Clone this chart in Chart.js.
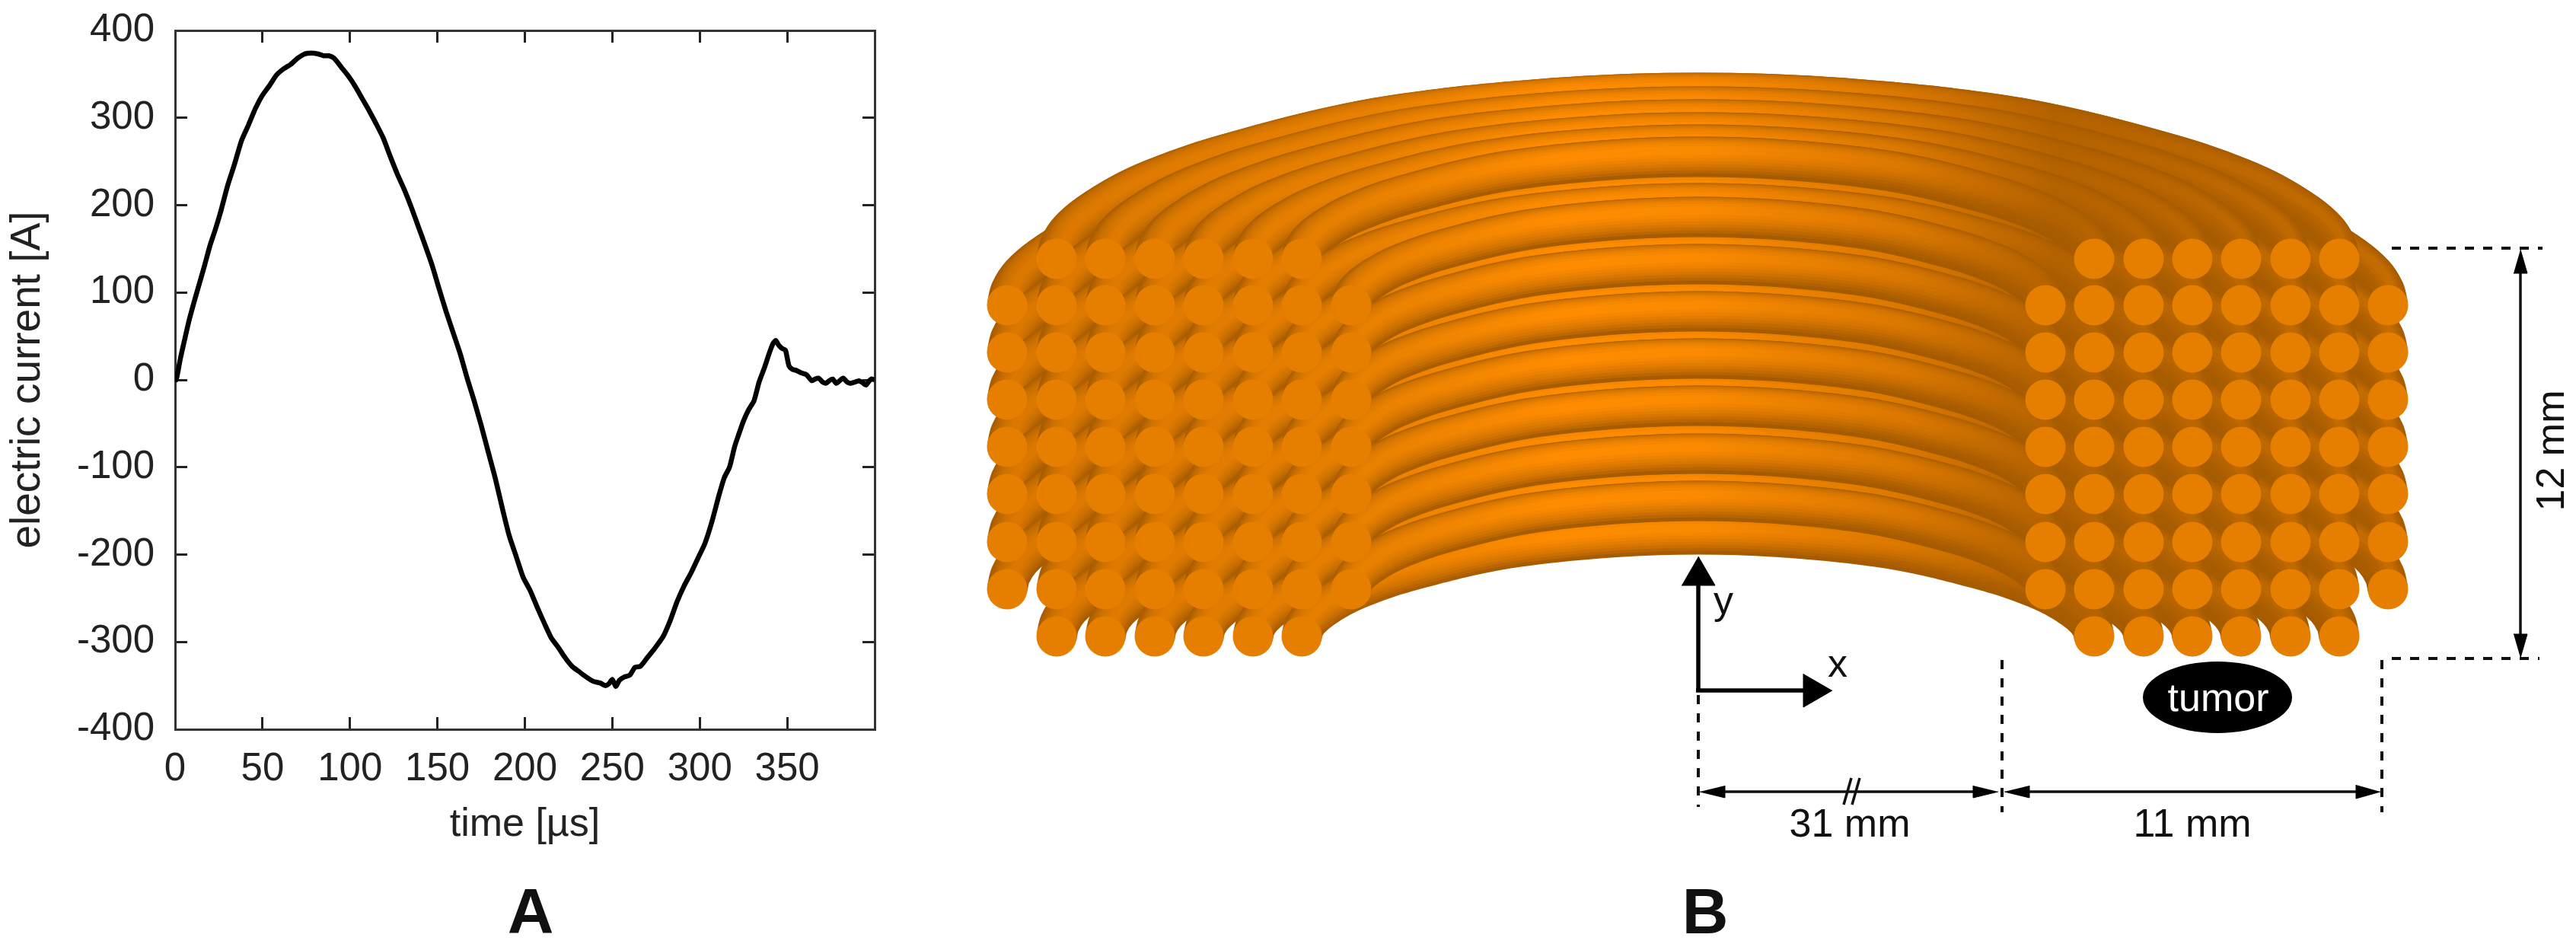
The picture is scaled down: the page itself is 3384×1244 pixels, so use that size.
<!DOCTYPE html>
<html>
<head>
<meta charset="utf-8">
<title>Coil current and geometry</title>
<script src="https://cdn.jsdelivr.net/npm/chart.js@4/dist/chart.umd.js"></script>
<style>
    html, body { margin: 0; padding: 0; background: #fff; }
    canvas { position: absolute; top: 0; }
    #chart-a { left: 0; }
    #chart-b { left: 1200px; }
</style>
</head>
<body>
<canvas id="chart-a" width="1200" height="1244"></canvas>
<canvas id="chart-b" width="2184" height="1244"></canvas>
<script>
// Panel A: current pulse
const timeValues = [0, 1, 3, 5, 8, 11, 14, 17, 20, 23, 26, 30, 34, 38, 42, 46, 50, 54, 58, 62, 66, 70, 74, 78, 82, 85, 88, 91, 95, 99, 103, 107, 111, 115, 119, 123, 127, 131, 135, 139, 143, 147, 151, 155, 159, 163, 167, 171, 175, 179, 183, 187, 191, 195, 199, 203, 207, 211, 215, 219, 223, 227, 231, 235, 239, 243, 246, 248, 250, 252, 254, 257, 260, 263, 266, 270, 274, 279, 283, 287, 291, 295, 299, 303, 307, 311, 314, 317, 320, 322, 325, 328, 331, 334, 337, 340, 342, 343.5, 345, 347, 349, 351, 353, 355, 358, 361, 364, 366, 368, 370, 372, 374, 376, 378, 380, 382, 384, 386, 388, 391, 393, 395, 397, 398, 400];
const currentValues = [-2, 3, 24, 42, 68, 90, 111, 132, 154, 172, 192, 222, 247, 274, 292, 311, 326, 337, 349, 356, 361, 368, 373, 374, 373, 371, 371, 368, 358, 348, 336, 322, 308, 293, 277, 256, 236, 218, 198, 176, 154, 131, 104, 78, 54, 30, 2, -24, -52, -82, -112, -146, -178, -202, -226, -241, -260, -278, -295, -306, -318, -328, -334, -340, -345, -347, -350, -348, -343, -351, -344, -340, -338, -329, -328, -318, -308, -294, -276, -254, -236, -221, -204, -187, -162, -132, -112, -100, -76, -64, -47, -34, -24, -2, 14, 32, 42, 45, 40, 36, 34, 16, 12, 11, 8, 6, -1, 1, 2, -2, -4, -1, 1, -4, -1, 2, -2, -4, -3, -1, -3, -6, -1, 1, 0];
const xTicks = [0, 50, 100, 150, 200, 250, 300, 350];
const yTicks = [-400, -300, -200, -100, 0, 100, 200, 300, 400];

// Panel B: wire positions on the cut faces, outer column first
const coilColsLeft = [1323, 1388, 1452, 1517, 1581, 1646, 1710, 1775];
const coilColsRight = [3137, 3073, 3009, 2944, 2880, 2816, 2751, 2687];
const coilRows = [340, 401, 463, 525, 587, 649, 712, 774, 836];
const coilRowRange = [[1, 7], [0, 8], [0, 8], [0, 8], [0, 8], [0, 8], [0, 8], [1, 7]];
const coilRise = [235, 218, 200, 183, 166, 150, 134, 116];

// Shape of one half turn, as fractions of half width and of rise
const archSpread = [1, 0.995, 0.98, 0.95, 0.9, 0.85, 0.78, 0.7, 0.6, 0.5, 0.4, 0.3, 0.2, 0.1, 0];
const archLift = [0, 0.08, 0.17, 0.27, 0.39, 0.48, 0.58, 0.67, 0.77, 0.85, 0.905, 0.945, 0.975, 0.994, 1];

// Tube shading: width, shift, colours from left to right
const shadeStops = [0, 0.27, 0.41, 0.505, 0.65, 0.76, 1];
const shadeLayers = [
    { width: 53, dx: 0, dy: 0, colors: ['#A85C00', '#AC5E00', '#A85C00', '#A65B00', '#A65B00', '#A65B00', '#A65B00'] },
    { width: 48, dx: 1, dy: -2.5, colors: ['#B06000', '#B86500', '#BC6700', '#B86500', '#AC5E00', '#A85C00', '#A85C00'] },
    { width: 43, dx: 2, dy: -4, colors: ['#B86500', '#C46C00', '#CC7000', '#C86E00', '#B46200', '#A85C00', '#A85C00'] },
    { width: 38, dx: 3, dy: -5.5, colors: ['#C06A00', '#CE7200', '#DA7800', '#D67600', '#BE6800', '#AA5D00', '#AC5E00'] },
    { width: 32, dx: 4, dy: -6.5, colors: ['#C86E00', '#D67600', '#E47D00', '#E27C00', '#C86E00', '#AD5F00', '#B06000'] },
    { width: 26, dx: 5, dy: -7.5, colors: ['#CE7100', '#DC7A00', '#EE8300', '#EC8200', '#D07200', '#B06000', '#B46300'] },
    { width: 19, dx: 6, dy: -8, colors: ['#D47400', '#E27D00', '#F88800', '#F58600', '#D67500', '#B26100', '#BC6700'] },
    { width: 11, dx: 7, dy: -8.5, colors: ['#DA7700', '#E88000', '#FF8C00', '#FB8A00', '#DB7800', '#B46200', '#C46C00'] }
];

// Dimension lines of panel B: [x1, y1, x2, y2]
const dashedLines = [
    [2231, 913, 2231, 1060],
    [2630, 867, 2630, 1067],
    [3129, 867, 3129, 1067],
    [3142, 865, 3336, 865],
    [3142, 326, 3340, 326]
];
const thinLines = [
    [2250, 1040, 2610, 1040],
    [2650, 1040, 3110, 1040],
    [3311, 350, 3311, 845],
    [2422, 1057, 2432, 1022],
    [2433, 1057, 2443, 1022]
];
const thickLines = [
    [2231, 907, 2231, 760],
    [2228, 907, 2380, 907]
];
// Arrow heads: [tip x, tip y, base x, base y, half width]
const arrowHeads = [
    [2231, 731, 2231, 769, 22],
    [2407, 907, 2369, 907, 22],
    [2233, 1040, 2266, 1040, 8],
    [2625, 1040, 2592, 1040, 8],
    [2633, 1040, 2666, 1040, 8],
    [3127, 1040, 3095, 1040, 9],
    [3311, 328, 3311, 359, 9],
    [3311, 864, 3311, 833, 9]
];
const tumorEllipse = [2913, 916, 98, 47];

const fontName = '"Liberation Sans", Arial, sans-serif';

const panelBLabels = [
    { text: 'y', x: 2264, y: 806, size: 52, color: '#111' },
    { text: 'x', x: 2414, y: 889, size: 52, color: '#111' },
    { text: '31 mm', x: 2430, y: 1099, size: 52, color: '#111' },
    { text: '11 mm', x: 2880, y: 1099, size: 52, color: '#111' },
    { text: 'tumor', x: 2914, y: 934, size: 52, color: '#fff' },
    { text: '12 mm', x: 3368, y: 592, size: 52, color: '#111', rotate: -Math.PI / 2 },
    { text: 'B', x: 2240, y: 1226, size: 84, color: '#111', bold: true }
];

function drawLabel(ctx, item) {
    ctx.save();
    ctx.translate(item.x, item.y);
    if (item.rotate) ctx.rotate(item.rotate);
    ctx.font = (item.bold ? 'bold ' : '') + item.size + 'px ' + fontName;
    ctx.fillStyle = item.color;
    ctx.textAlign = 'center';
    ctx.textBaseline = 'alphabetic';
    ctx.fillText(item.text, 0, 0);
    ctx.restore();
}

// Panel A chart
const pinSize = (size, prop) => scale => {
    scale[prop] = size;
    // tick padding would otherwise push the frame down from the top
    scale.paddingTop = 0;
    scale.paddingBottom = 0;
};
const sideTicks = values => scale => { scale.ticks = values.map(value => ({ value })); };
const frameAxis = {
    border: { display: true, width: 3, color: '#333' },
    grid: { drawOnChartArea: false, drawTicks: true, tickLength: -16, tickWidth: 3, tickColor: '#222' }
};

new Chart(document.getElementById('chart-a'), {
    type: 'line',
    data: {
        datasets: [{
            data: timeValues.map((t, i) => ({ x: t, y: currentValues[i] })),
            borderColor: '#000',
            borderWidth: 6.5,
            pointRadius: 0,
            tension: 0.2,
            borderJoinStyle: 'round'
        }]
    },
    options: {
        responsive: false,
        animation: false,
        layout: { padding: 0, autoPadding: false },
        plugins: { legend: { display: false }, tooltip: { enabled: false } },
        scales: {
            x: {
                ...frameAxis,
                type: 'linear', position: 'bottom', min: 0, max: 400,
                afterBuildTicks: sideTicks(xTicks),
                afterFit: pinSize(286, 'height'),
                ticks: { autoSkip: false, maxRotation: 0, padding: 38, color: '#222', font: { size: 51, family: fontName } },
                title: { display: true, text: 'time [µs]', color: '#222', padding: { top: 0, bottom: 129 }, font: { size: 52, family: fontName } }
            },
            y: {
                ...frameAxis,
                type: 'linear', position: 'left', min: -400, max: 400,
                afterBuildTicks: sideTicks(yTicks),
                afterFit: pinSize(230, 'width'),
                ticks: { autoSkip: false, padding: 43, color: '#222', font: { size: 51, family: fontName } },
                title: { display: true, text: 'electric current [A]', color: '#222', padding: { top: 4, bottom: 0 }, font: { size: 55, family: fontName } }
            },
            xTop: {
                ...frameAxis,
                type: 'linear', position: 'top', min: 0, max: 400,
                afterBuildTicks: sideTicks(xTicks),
                afterFit: pinSize(40, 'height'),
                ticks: { display: false }
            },
            yRight: {
                ...frameAxis,
                type: 'linear', position: 'right', min: -400, max: 400,
                afterBuildTicks: sideTicks(yTicks),
                afterFit: pinSize(51, 'width'),
                ticks: { display: false }
            }
        }
    },
    plugins: [{
        id: 'panelLetter',
        afterDraw(chart) {
            drawLabel(chart.ctx, { text: 'A', x: 697, y: 1226, size: 84, color: '#111', bold: true });
        }
    }]
});

// Panel B chart, back to front
function tubePoints(col, rowY, layer) {
    const left = coilColsLeft[col];
    const right = coilColsRight[col];
    const mid = (left + right) / 2;
    const half = (right - left) / 2;
    const points = [];
    archSpread.forEach((f, i) => {
        points.push({ x: mid - f * half + layer.dx, y: rowY - archLift[i] * coilRise[col] + layer.dy });
    });
    for (let i = archSpread.length - 2; i >= 0; i--) {
        points.push({ x: mid + archSpread[i] * half + layer.dx, y: rowY - archLift[i] * coilRise[col] + layer.dy });
    }
    return points;
}

function layerGradient(layer) {
    return context => {
        const chart = context.chart;
        if (!chart.chartArea) return layer.colors[3];
        const xScale = chart.scales.x;
        const gradient = chart.ctx.createLinearGradient(xScale.getPixelForValue(1300), 0, xScale.getPixelForValue(3140), 0);
        shadeStops.forEach((stop, i) => gradient.addColorStop(stop, layer.colors[i]));
        return gradient;
    };
}

function lineDataset(line, width, color, dash) {
    return {
        data: [{ x: line[0], y: line[1] }, { x: line[2], y: line[3] }],
        borderColor: color,
        borderWidth: width,
        borderDash: dash || [],
        pointRadius: 0,
        tension: 0
    };
}

const layers = [];

coilColsLeft.forEach((_, col) => {
    const [firstRow, lastRow] = coilRowRange[col];
    for (let row = firstRow; row <= lastRow; row++) {
        shadeLayers.forEach(layer => {
            layers.push({
                data: tubePoints(col, coilRows[row], layer),
                borderColor: layerGradient(layer),
                borderWidth: layer.width,
                borderCapStyle: 'butt',
                pointRadius: 0,
                tension: 0.3
            });
        });
    }
});

const wireEnds = [];
coilColsLeft.forEach((_, col) => {
    const [firstRow, lastRow] = coilRowRange[col];
    for (let row = firstRow; row <= lastRow; row++) {
        wireEnds.push({ x: coilColsLeft[col], y: coilRows[row] });
        wireEnds.push({ x: coilColsRight[col], y: coilRows[row] });
    }
});
layers.push({
    data: wireEnds,
    showLine: false,
    pointRadius: 26.5,
    pointBorderWidth: 0,
    pointBackgroundColor: '#E67E00'
});

dashedLines.forEach(line => layers.push(lineDataset(line, 4, '#111', [12, 12])));
thinLines.forEach(line => layers.push(lineDataset(line, 3.5, '#111')));
thickLines.forEach(line => layers.push(lineDataset(line, 5.5, '#000')));

arrowHeads.forEach(head => {
    const [tipX, tipY, baseX, baseY, half] = head;
    const vertical = tipX === baseX;
    layers.push({
        data: [
            { x: tipX, y: tipY },
            { x: baseX + (vertical ? half : 0), y: baseY + (vertical ? 0 : half) },
            { x: baseX - (vertical ? half : 0), y: baseY - (vertical ? 0 : half) }
        ],
        borderColor: '#000',
        borderWidth: 1,
        backgroundColor: '#000',
        fill: 'shape',
        pointRadius: 0,
        tension: 0
    });
});

// Chart.js paints the first dataset last
layers.reverse();

new Chart(document.getElementById('chart-b'), {
    type: 'line',
    data: { datasets: layers },
    options: {
        responsive: false,
        animation: false,
        layout: { padding: 0, autoPadding: false },
        plugins: { legend: { display: false }, tooltip: { enabled: false } },
        scales: {
            x: { type: 'linear', display: false, min: 1200, max: 3384 },
            y: { type: 'linear', display: false, min: 0, max: 1244, reverse: true }
        }
    },
    plugins: [{
        id: 'tumorAndText',
        afterDraw(chart) {
            const ctx = chart.ctx;
            const { x, y } = chart.scales;
            const [cx, cy, rx, ry] = tumorEllipse;
            ctx.save();
            ctx.fillStyle = '#000';
            ctx.beginPath();
            ctx.ellipse(x.getPixelForValue(cx), y.getPixelForValue(cy), rx, ry, 0, 0, Math.PI * 2);
            ctx.fill();
            ctx.restore();
            panelBLabels.forEach(label => {
                drawLabel(ctx, { ...label, x: x.getPixelForValue(label.x), y: y.getPixelForValue(label.y) });
            });
        }
    }]
});
</script>
</body>
</html>
